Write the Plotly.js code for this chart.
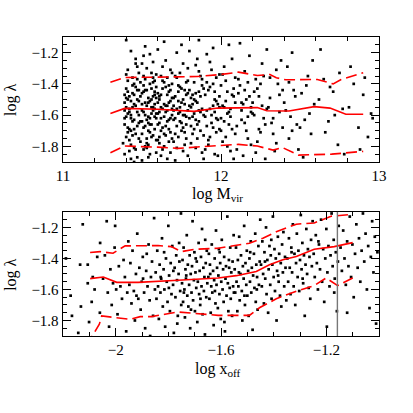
<!DOCTYPE html>
<html>
<head>
<meta charset="utf-8">
<script src="https://cdn.plot.ly/plotly-3.0.1.min.js"></script>
<style>
  html, body { margin: 0; padding: 0; background: #fff; }
  #chart { width: 413px; height: 413px; }
</style>
</head>
<body>
<div id="chart"></div>
<script>
// top panel: halo mass vs spin, [log Mvir, log lambda]
const massPoints = [
  [11.39,-1.52],[11.41,-1.71],[11.40,-1.34],[11.43,-1.62],[11.45,-1.47],[11.42,-1.83],[11.47,-1.58],[11.39,-1.66],[11.44,-1.41],[11.48,-1.75],
  [11.40,-1.49],[11.46,-1.27],[11.41,-1.59],[11.49,-1.64],[11.43,-1.88],[11.45,-1.53],[11.38,-1.78],[11.47,-1.44],[11.42,-1.69],[11.44,-1.36],
  [11.40,-1.61],[11.48,-1.51],[11.46,-1.72],[11.41,-1.45],[11.43,-1.19],[11.39,-1.57],[11.49,-1.39],[11.45,-1.81],[11.42,-1.48],[11.47,-1.67],
  [11.44,-1.55],[11.40,-1.74],[11.46,-1.42],[11.48,-1.60],[11.41,-1.31],[11.43,-1.70],[11.39,-1.85],[11.45,-1.63],[11.47,-1.50],[11.42,-1.58],
  [11.49,-1.77],[11.44,-1.46],[11.40,-1.12],[11.46,-1.54],[11.41,-1.68],[11.48,-1.33],[11.43,-1.79],[11.45,-1.40],[11.39,-1.62],[11.47,-1.87],
  [11.42,-1.56],[11.44,-1.73],[11.40,-1.43],[11.48,-1.65],[11.46,-1.24],[11.41,-1.50],[11.43,-1.60],[11.49,-1.48],[11.45,-1.69],[11.47,-1.37],
  [11.39,-1.47],[11.42,-1.76],[11.44,-1.64],[11.40,-1.55],[11.46,-1.82],[11.48,-1.44],[11.41,-1.38],[11.43,-1.51],[11.45,-1.90],[11.47,-1.29],
  [11.51,-1.58],[11.53,-1.44],[11.55,-1.71],[11.57,-1.36],[11.59,-1.62],[11.52,-1.80],[11.54,-1.49],[11.56,-1.66],[11.58,-1.53],[11.50,-1.27],
  [11.53,-1.75],[11.55,-1.40],[11.57,-1.57],[11.59,-1.84],[11.51,-1.45],[11.54,-1.61],[11.56,-1.33],[11.58,-1.69],[11.52,-1.52],[11.50,-1.64],
  [11.55,-1.21],[11.57,-1.48],[11.53,-1.78],[11.59,-1.42],[11.51,-1.68],[11.56,-1.55],[11.54,-1.87],[11.58,-1.38],[11.52,-1.60],[11.50,-1.46],
  [11.57,-1.73],[11.55,-1.51],[11.53,-1.30],[11.59,-1.59],[11.51,-1.82],[11.56,-1.43],[11.54,-1.65],[11.58,-1.56],[11.52,-1.16],[11.50,-1.72],
  [11.55,-1.62],[11.57,-1.39],[11.53,-1.54],[11.59,-1.76],[11.51,-1.35],[11.56,-1.50],[11.54,-1.79],[11.58,-1.47],[11.52,-1.67],[11.50,-1.57],
  [11.57,-1.26],[11.55,-1.85],[11.53,-1.63],[11.59,-1.49],[11.51,-1.41],[11.56,-1.74],[11.54,-1.52],[11.58,-1.61],[11.52,-1.37],[11.50,-1.89],
  [11.56,-1.59],[11.58,-1.45],[11.54,-1.70],[11.52,-1.44],[11.57,-1.55],[11.55,-1.66],[11.51,-1.22],[11.53,-1.81],[11.59,-1.34],[11.50,-1.53],
  [11.61,-1.50],[11.63,-1.68],[11.65,-1.42],[11.67,-1.77],[11.69,-1.56],[11.62,-1.35],[11.64,-1.61],[11.66,-1.47],[11.68,-1.84],[11.60,-1.59],
  [11.63,-1.29],[11.65,-1.73],[11.67,-1.52],[11.69,-1.40],[11.61,-1.65],[11.64,-1.80],[11.66,-1.57],[11.68,-1.44],[11.62,-1.70],[11.60,-1.18],
  [11.65,-1.54],[11.67,-1.63],[11.63,-1.38],[11.69,-1.75],[11.61,-1.48],[11.66,-1.88],[11.64,-1.53],[11.68,-1.31],[11.62,-1.62],[11.60,-1.46],
  [11.67,-1.69],[11.65,-1.58],[11.63,-1.43],[11.69,-1.60],[11.61,-1.78],[11.66,-1.36],[11.64,-1.72],[11.68,-1.51],[11.62,-1.55],[11.60,-1.66],
  [11.65,-1.25],[11.67,-1.45],[11.63,-1.82],[11.69,-1.49],[11.61,-1.58],[11.66,-1.64],[11.64,-1.39],[11.68,-1.71],[11.62,-1.47],[11.60,-1.76],
  [11.66,-1.54],[11.68,-1.62],[11.64,-1.13],[11.62,-1.86],[11.67,-1.41],[11.65,-1.67],[11.63,-1.56],[11.69,-1.33],[11.61,-1.74],[11.60,-1.52],
  [11.71,-1.62],[11.73,-1.45],[11.75,-1.70],[11.77,-1.53],[11.79,-1.38],[11.72,-1.81],[11.74,-1.58],[11.76,-1.27],[11.78,-1.66],[11.70,-1.49],
  [11.73,-1.74],[11.75,-1.43],[11.77,-1.60],[11.79,-1.86],[11.71,-1.35],[11.74,-1.55],[11.76,-1.68],[11.78,-1.47],[11.72,-1.20],[11.70,-1.63],
  [11.75,-1.52],[11.77,-1.79],[11.73,-1.41],[11.79,-1.57],[11.71,-1.72],[11.76,-1.50],[11.74,-1.33],[11.78,-1.61],[11.72,-1.56],[11.70,-1.77],
  [11.77,-1.44],[11.75,-1.65],[11.73,-1.59],[11.79,-1.30],[11.71,-1.48],[11.76,-1.83],[11.74,-1.64],[11.78,-1.39],[11.72,-1.67],[11.70,-1.54],
  [11.75,-1.15],[11.77,-1.71],[11.73,-1.51],[11.79,-1.46],[11.71,-1.89],[11.76,-1.60],[11.74,-1.42],[11.78,-1.75],[11.72,-1.36],[11.70,-1.57],
  [11.81,-1.55],[11.83,-1.39],[11.85,-1.66],[11.87,-1.48],[11.89,-1.73],[11.82,-1.61],[11.84,-1.28],[11.86,-1.57],[11.88,-1.84],[11.80,-1.44],
  [11.83,-1.69],[11.85,-1.52],[11.87,-1.35],[11.89,-1.60],[11.81,-1.78],[11.84,-1.46],[11.86,-1.64],[11.88,-1.41],[11.82,-1.53],[11.80,-1.19],
  [11.85,-1.75],[11.87,-1.58],[11.83,-1.50],[11.89,-1.43],[11.81,-1.67],[11.86,-1.32],[11.84,-1.81],[11.88,-1.56],[11.82,-1.47],[11.80,-1.62],
  [11.87,-1.70],[11.85,-1.24],[11.83,-1.59],[11.89,-1.88],[11.81,-1.49],[11.86,-1.45],[11.84,-1.63],[11.88,-1.37],[11.82,-1.72],[11.80,-1.54],
  [11.86,-1.12],[11.84,-1.51],
  [11.91,-1.57],[11.93,-1.42],[11.95,-1.68],[11.97,-1.51],[11.99,-1.34],[11.92,-1.76],[11.94,-1.60],[11.96,-1.45],[11.98,-1.63],[11.90,-1.82],
  [11.93,-1.26],[11.95,-1.54],[11.97,-1.71],[11.99,-1.48],[11.91,-1.39],[11.94,-1.65],[11.96,-1.58],[11.98,-1.86],[11.92,-1.44],[11.90,-1.61],
  [11.95,-1.17],[11.97,-1.36],[11.93,-1.74],[11.99,-1.55],[11.91,-1.67],[11.96,-1.50],[11.94,-1.31],[11.98,-1.53],[11.92,-1.79],[11.90,-1.47],
  [11.97,-1.62],[11.95,-1.40],[11.93,-1.56],[11.99,-1.69],[11.91,-1.21],[11.96,-1.85],
  [12.01,-1.54],[12.03,-1.38],[12.05,-1.66],[12.07,-1.47],[12.09,-1.72],[12.02,-1.29],[12.04,-1.59],[12.06,-1.83],[12.08,-1.43],[12.00,-1.62],
  [12.03,-1.51],[12.05,-1.15],[12.07,-1.69],[12.09,-1.36],[12.01,-1.77],[12.04,-1.45],[12.06,-1.56],[12.08,-1.88],[12.02,-1.64],[12.00,-1.41],
  [12.05,-1.58],[12.07,-1.24],[12.03,-1.74],[12.09,-1.52],[12.01,-1.34],[12.06,-1.61],[12.04,-1.80],[12.08,-1.48],[12.02,-1.55],[12.00,-1.70],
  [12.11,-1.46],[12.13,-1.63],[12.15,-1.32],[12.17,-1.75],[12.19,-1.55],[12.12,-1.41],[12.14,-1.86],[12.16,-1.50],[12.18,-1.22],[12.10,-1.67],
  [12.13,-1.57],[12.15,-1.44],[12.17,-1.61],[12.19,-1.79],[12.11,-1.37],[12.14,-1.53],[12.16,-1.70],[12.18,-1.48],[12.12,-1.14],[12.10,-1.82],
  [12.15,-1.65],[12.17,-1.39],[12.13,-1.52],[12.19,-1.58],
  [12.21,-1.60],[12.23,-1.43],[12.25,-1.71],[12.27,-1.35],[12.29,-1.56],[12.22,-1.84],[12.24,-1.48],[12.26,-1.27],[12.28,-1.66],[12.20,-1.52],
  [12.23,-1.77],[12.25,-1.40],[12.27,-1.62],[12.29,-1.18],[12.21,-1.45],[12.24,-1.69],[12.26,-1.54],[12.28,-1.88],[12.22,-1.37],[12.20,-1.59],
  [12.31,-1.49],[12.33,-1.72],[12.35,-1.31],[12.37,-1.58],[12.39,-1.44],[12.32,-1.65],[12.34,-1.83],[12.36,-1.40],[12.38,-1.25],[12.30,-1.55],
  [12.33,-1.62],[12.35,-1.78],[12.37,-1.47],[12.39,-1.68],[12.31,-1.36],
  [12.41,-1.57],[12.43,-1.39],[12.45,-1.70],[12.47,-1.48],[12.49,-1.82],[12.42,-1.29],[12.44,-1.61],[12.46,-1.44],[12.48,-1.66],[12.40,-1.52],
  [12.45,-1.20],[12.43,-1.75],
  [12.51,-1.46],[12.53,-1.63],[12.55,-1.35],[12.57,-1.72],[12.59,-1.53],[12.52,-1.87],[12.54,-1.41],[12.56,-1.59],[12.58,-1.25],[12.50,-1.68],
  [12.62,-1.50],[12.65,-1.37],[12.68,-1.64],[12.71,-1.45],[12.74,-1.79],[12.77,-1.56],[12.63,-1.18],[12.66,-1.71],[12.69,-1.42],[12.72,-1.60],
  [12.75,-1.33],[12.78,-1.85],
  [12.81,-1.55],[12.84,-1.40],[12.87,-1.68],[12.90,-1.47],[12.93,-1.74],[12.95,-1.59],[12.82,-1.29],[12.88,-1.82],[12.91,-1.36],[12.96,-1.62]
];

// bottom panel: offset vs spin, [log xoff, log lambda]
const offsetPoints = [
  [-2.189,-1.40],[-2.171,-1.64],[-2.166,-1.77],[-2.142,-1.88],[-2.135,-1.44],[-2.132,-1.71],[-2.125,-1.18],[-2.106,-1.44],[-2.106,-1.56],[-2.101,-1.81],
  [-2.091,-1.68],[-2.087,-1.52],[-2.070,-1.39],[-2.060,-1.75],[-2.059,-1.30],[-2.080,-1.60],
  [-2.048,-1.53],[-2.041,-1.38],[-2.034,-1.16],[-2.030,-1.62],[-2.025,-1.84],[-2.020,-1.47],[-2.015,-1.70],[-2.010,-1.56],[-2.004,-1.33],[-2.002,-1.19],
  [-1.998,-1.60],[-1.993,-1.76],[-1.988,-1.45],[-1.982,-1.58],[-1.976,-1.66],[-1.970,-1.41],[-1.965,-1.52],[-1.960,-1.87],[-1.956,-1.62],[-1.952,-1.29],
  [-1.948,-1.57],[-1.944,-1.43],[-1.940,-1.69],[-1.936,-1.35],[-1.931,-1.61],[-1.927,-1.80],[-1.923,-1.50],[-1.918,-1.24],[-1.914,-1.66],[-1.910,-1.46],
  [-1.905,-1.73],[-1.901,-1.55],[-1.897,-1.39],[-1.892,-1.62],[-1.888,-1.85],[-1.884,-1.48],[-1.879,-1.58],[-1.875,-1.31],[-1.871,-1.67],[-1.866,-1.52],
  [-1.862,-1.42],[-1.858,-1.77],[-1.854,-1.14],[-1.851,-1.60],[-1.896,-1.53],[-1.921,-1.64],[-1.882,-1.37],[-1.869,-1.90],
  [-1.848,-1.49],[-1.845,-1.66],[-1.842,-1.35],[-1.839,-1.58],[-1.836,-1.79],[-1.833,-1.44],[-1.830,-1.62],[-1.827,-1.53],[-1.824,-1.27],[-1.821,-1.71],
  [-1.818,-1.47],[-1.815,-1.60],[-1.812,-1.84],[-1.809,-1.40],[-1.806,-1.55],[-1.803,-1.68],[-1.800,-1.19],[-1.797,-1.51],[-1.794,-1.74],[-1.791,-1.43],
  [-1.788,-1.63],[-1.785,-1.32],[-1.782,-1.57],[-1.779,-1.88],[-1.776,-1.46],[-1.773,-1.65],[-1.770,-1.38],[-1.767,-1.54],[-1.764,-1.77],[-1.761,-1.50],
  [-1.758,-1.42],[-1.755,-1.61],[-1.752,-1.11],[-1.751,-1.70],[-1.816,-1.36],[-1.798,-1.59],[-1.781,-1.48],[-1.766,-1.82],[-1.829,-1.52],[-1.759,-1.30],
  [-1.748,-1.56],[-1.746,-1.41],[-1.744,-1.68],[-1.742,-1.33],[-1.739,-1.60],[-1.737,-1.78],[-1.735,-1.47],[-1.733,-1.53],[-1.730,-1.25],[-1.728,-1.64],
  [-1.726,-1.44],[-1.724,-1.71],[-1.721,-1.57],[-1.719,-1.38],[-1.717,-1.85],[-1.715,-1.50],[-1.712,-1.62],[-1.710,-1.45],[-1.708,-1.16],[-1.706,-1.67],
  [-1.703,-1.54],[-1.701,-1.36],[-1.699,-1.74],[-1.697,-1.49],[-1.694,-1.59],[-1.692,-1.42],[-1.690,-1.81],[-1.688,-1.55],[-1.685,-1.30],[-1.683,-1.63],
  [-1.681,-1.48],[-1.679,-1.70],[-1.676,-1.39],[-1.674,-1.58],[-1.672,-1.21],[-1.670,-1.76],[-1.667,-1.46],[-1.665,-1.61],[-1.663,-1.52],[-1.661,-1.89],
  [-1.658,-1.43],[-1.656,-1.65],[-1.654,-1.35],[-1.652,-1.56],[-1.732,-1.51],[-1.714,-1.73],[-1.696,-1.40],[-1.678,-1.66],[-1.660,-1.28],[-1.741,-1.62],
  [-1.648,-1.52],[-1.646,-1.37],[-1.644,-1.66],[-1.642,-1.44],[-1.639,-1.75],[-1.637,-1.58],[-1.635,-1.31],[-1.633,-1.62],[-1.630,-1.48],[-1.628,-1.83],
  [-1.626,-1.54],[-1.624,-1.40],[-1.621,-1.69],[-1.619,-1.22],[-1.617,-1.57],[-1.615,-1.46],[-1.612,-1.72],[-1.610,-1.51],[-1.608,-1.34],[-1.606,-1.63],
  [-1.603,-1.43],[-1.601,-1.79],[-1.599,-1.55],[-1.597,-1.28],[-1.594,-1.60],[-1.592,-1.47],[-1.590,-1.68],[-1.588,-1.39],[-1.585,-1.87],[-1.583,-1.53],
  [-1.581,-1.45],[-1.579,-1.64],[-1.576,-1.13],[-1.574,-1.56],[-1.572,-1.74],[-1.570,-1.41],[-1.567,-1.59],[-1.565,-1.33],[-1.563,-1.66],[-1.561,-1.49],
  [-1.558,-1.77],[-1.556,-1.42],[-1.554,-1.58],[-1.552,-1.25],[-1.641,-1.50],[-1.623,-1.61],[-1.605,-1.36],[-1.587,-1.81],[-1.569,-1.46],[-1.551,-1.62],
  [-1.548,-1.47],[-1.546,-1.62],[-1.543,-1.33],[-1.541,-1.55],[-1.538,-1.74],[-1.536,-1.41],[-1.534,-1.58],[-1.531,-1.26],[-1.529,-1.67],[-1.526,-1.50],
  [-1.524,-1.38],[-1.521,-1.61],[-1.519,-1.80],[-1.517,-1.45],[-1.514,-1.53],[-1.512,-1.19],[-1.509,-1.70],[-1.507,-1.43],[-1.504,-1.57],[-1.502,-1.35],
  [-1.500,-1.64],[-1.497,-1.48],[-1.495,-1.77],[-1.492,-1.40],[-1.490,-1.55],[-1.487,-1.29],[-1.485,-1.62],[-1.483,-1.46],[-1.480,-1.86],[-1.478,-1.51],
  [-1.475,-1.37],[-1.473,-1.59],[-1.470,-1.24],[-1.468,-1.68],[-1.466,-1.44],[-1.463,-1.52],[-1.461,-1.73],[-1.458,-1.32],[-1.456,-1.57],[-1.453,-1.42],
  [-1.451,-1.15],[-1.532,-1.49],[-1.511,-1.64],[-1.489,-1.36],[-1.464,-1.60],
  [-1.448,-1.44],[-1.445,-1.58],[-1.443,-1.29],[-1.440,-1.50],[-1.437,-1.69],[-1.435,-1.36],[-1.432,-1.53],[-1.429,-1.20],[-1.427,-1.63],[-1.424,-1.41],
  [-1.421,-1.75],[-1.419,-1.47],[-1.416,-1.32],[-1.413,-1.57],[-1.411,-1.38],[-1.408,-1.66],[-1.405,-1.44],[-1.403,-1.13],[-1.400,-1.52],[-1.397,-1.34],
  [-1.395,-1.61],[-1.392,-1.40],[-1.389,-1.80],[-1.387,-1.48],[-1.384,-1.26],[-1.381,-1.55],[-1.379,-1.37],[-1.376,-1.64],[-1.373,-1.43],[-1.371,-1.71],
  [-1.368,-1.31],[-1.365,-1.49],[-1.363,-1.23],[-1.360,-1.58],[-1.357,-1.39],[-1.355,-1.46],[-1.352,-1.67],[-1.433,-1.42],[-1.409,-1.28],[-1.383,-1.51],
  [-1.348,-1.40],[-1.345,-1.55],[-1.342,-1.27],[-1.339,-1.46],[-1.336,-1.63],[-1.333,-1.33],[-1.330,-1.49],[-1.327,-1.18],[-1.324,-1.58],[-1.321,-1.37],
  [-1.318,-1.70],[-1.315,-1.43],[-1.312,-1.24],[-1.309,-1.52],[-1.306,-1.35],[-1.303,-1.61],[-1.300,-1.41],[-1.297,-1.12],[-1.294,-1.47],[-1.291,-1.30],
  [-1.288,-1.56],[-1.285,-1.38],[-1.282,-1.77],[-1.279,-1.44],[-1.276,-1.21],[-1.273,-1.50],[-1.270,-1.34],[-1.267,-1.59],[-1.264,-1.39],[-1.261,-1.66],
  [-1.258,-1.28],[-1.255,-1.45],[-1.252,-1.16],[-1.332,-1.36],[-1.290,-1.53],
  [-1.248,-1.37],[-1.244,-1.52],[-1.240,-1.25],[-1.236,-1.43],[-1.232,-1.60],[-1.228,-1.31],[-1.224,-1.47],[-1.220,-1.15],[-1.216,-1.55],[-1.212,-1.34],
  [-1.208,-1.68],[-1.204,-1.40],[-1.200,-1.21],[-1.196,-1.49],[-1.192,-1.32],[-1.188,-1.58],[-1.184,-1.38],[-1.180,-1.11],[-1.176,-1.45],[-1.172,-1.28],
  [-1.168,-1.53],[-1.164,-1.36],[-1.160,-1.74],[-1.156,-1.42],[-1.153,-1.19],[-1.230,-1.29],[-1.198,-1.84],[-1.170,-1.62],
  [-1.146,-1.33],[-1.141,-1.48],[-1.136,-1.22],[-1.131,-1.40],[-1.126,-1.57],[-1.121,-1.29],[-1.116,-1.45],[-1.111,-1.13],[-1.106,-1.52],[-1.101,-1.31],
  [-1.096,-1.65],[-1.091,-1.37],[-1.086,-1.18],[-1.081,-1.46],[-1.076,-1.27],[-1.071,-1.55],[-1.066,-1.35],[-1.061,-1.11],[-1.056,-1.42],[-1.051,-1.24],
  [-1.046,-1.60],[-1.041,-1.32],[-1.036,-1.72],[-1.031,-1.39],[-1.026,-1.16],[-1.021,-1.49],[-1.016,-1.26],[-1.011,-1.82],[-1.006,-1.36],[-1.121,-1.75]
];

// running median and 10/90 percentiles
const massMedian = [[11.30,-1.59],[11.39,-1.557],[11.60,-1.562],[11.73,-1.568],[11.83,-1.576],[11.98,-1.555],[12.14,-1.553],[12.23,-1.552],[12.29,-1.572],[12.43,-1.574],[12.59,-1.546],[12.69,-1.555],[12.79,-1.594],[12.90,-1.594]];
const massP90 = [[11.30,-1.389],[11.39,-1.359],[11.60,-1.357],[11.85,-1.353],[12.00,-1.34],[12.11,-1.325],[12.23,-1.346],[12.31,-1.34],[12.35,-1.361],[12.41,-1.374],[12.61,-1.372],[12.71,-1.40],[12.76,-1.372],[12.90,-1.329]];
const massP10 = [[11.30,-1.841],[11.39,-1.798],[11.60,-1.805],[11.73,-1.813],[11.85,-1.804],[12.11,-1.787],[12.23,-1.798],[12.33,-1.824],[12.39,-1.808],[12.49,-1.856],[12.70,-1.85],[12.90,-1.832]];

const offMedian = [[-2.097,-1.530],[-2.047,-1.520],[-1.996,-1.554],[-1.915,-1.554],[-1.763,-1.541],[-1.611,-1.526],[-1.542,-1.511],[-1.466,-1.484],[-1.416,-1.441],[-1.365,-1.409],[-1.314,-1.388],[-1.246,-1.341],[-1.170,-1.324],[-1.100,-1.298]];
const offP90 = [[-2.097,-1.362],[-2.059,-1.356],[-2.010,-1.366],[-1.964,-1.319],[-1.839,-1.317],[-1.789,-1.324],[-1.751,-1.356],[-1.700,-1.341],[-1.611,-1.334],[-1.542,-1.313],[-1.492,-1.302],[-1.441,-1.27],[-1.390,-1.228],[-1.314,-1.179],[-1.246,-1.171],[-1.182,-1.128],[-1.100,-1.115]];
const offP10 = [[-2.110,-1.96],[-2.062,-1.824],[-2.053,-1.771],[-2.009,-1.781],[-1.945,-1.792],[-1.907,-1.775],[-1.864,-1.775],[-1.813,-1.760],[-1.763,-1.745],[-1.700,-1.754],[-1.611,-1.767],[-1.492,-1.767],[-1.454,-1.718],[-1.390,-1.66],[-1.314,-1.611],[-1.246,-1.575],[-1.201,-1.526],[-1.157,-1.575],[-1.100,-1.526]];

const xoffCut = -1.158;

const lambdaTicks = [-1.8, -1.6, -1.4, -1.2];
const massTicks = [11, 12, 13];
const offTicks = [-2, -1.6, -1.2];

const font = "Liberation Serif, Times New Roman, serif";
const titleFont = { family: font, size: 16, color: "#000" };

function dots(pts, xa, ya) {
  return {
    x: pts.map((p) => p[0]),
    y: pts.map((p) => p[1]),
    xaxis: xa,
    yaxis: ya,
    type: "scatter",
    mode: "markers",
    marker: { symbol: "square", size: 2.7, color: "#000" },
    hoverinfo: "skip",
  };
}

function curve(pts, xa, ya, dashed) {
  return {
    x: pts.map((p) => p[0]),
    y: pts.map((p) => p[1]),
    xaxis: xa,
    yaxis: ya,
    type: "scatter",
    mode: "lines",
    line: { color: "#ff0000", width: 1.6, dash: dashed ? "11px,5px" : "solid" },
    hoverinfo: "skip",
  };
}

const data = [
  dots(massPoints, "x", "y"),
  curve(massMedian, "x", "y", false),
  curve(massP90, "x", "y", true),
  curve(massP10, "x", "y", true),
  dots(offsetPoints, "x2", "y2"),
  curve(offMedian, "x2", "y2", false),
  curve(offP90, "x2", "y2", true),
  curve(offP10, "x2", "y2", true),
];

const axisBase = {
  showline: true,
  linecolor: "#000",
  linewidth: 1.4,
  mirror: "allticks",
  ticks: "inside",
  ticklen: 8,
  tickwidth: 1,
  tickcolor: "#000",
  showgrid: false,
  zeroline: false,
  tickfont: { family: font, size: 15, color: "#000" },
};

// y labels sit further from the frame in the reference, pad them with a space
const yLabelPad = "\u2002\u2009";

// axis titles placed as paper annotations so they sit where the reference has them
function label(text, x, y, rotate) {
  return {
    text,
    xref: "paper",
    yref: "paper",
    x,
    y,
    xanchor: "center",
    yanchor: "middle",
    textangle: rotate ? -90 : 0,
    showarrow: false,
    font: titleFont,
  };
}

const layout = {
  width: 413,
  height: 413,
  showlegend: false,
  margin: { l: 63, r: 34, t: 37, b: 77 },
  paper_bgcolor: "#fff",
  plot_bgcolor: "#fff",

  xaxis: {
    ...axisBase,
    anchor: "y",
    domain: [0, 1],
    range: [11, 13],
    tickvals: massTicks,
    minor: { dtick: 0.2, tick0: 11, ticks: "inside", ticklen: 4, tickcolor: "#000" },
  },
  yaxis: {
    ...axisBase,
    anchor: "x",
    domain: [0.582, 1],
    range: [-1.9, -1.1],
    tickvals: lambdaTicks,
    ticksuffix: yLabelPad,
    minor: { dtick: 0.05, tick0: -1.2, ticks: "inside", ticklen: 4, tickcolor: "#000" },
  },
  xaxis2: {
    ...axisBase,
    anchor: "y2",
    domain: [0, 1],
    range: [-2.2, -1.0],
    tickvals: offTicks,
    minor: { dtick: 0.1, tick0: -2, ticks: "inside", ticklen: 4, tickcolor: "#000" },
  },
  yaxis2: {
    ...axisBase,
    anchor: "x2",
    domain: [0, 0.415],
    range: [-1.9, -1.1],
    tickvals: lambdaTicks,
    ticksuffix: yLabelPad,
    minor: { dtick: 0.05, tick0: -1.2, ticks: "inside", ticklen: 4, tickcolor: "#000" },
  },

  annotations: [
    label("log M<sub>vir</sub>", 0.49, 0.474, false),
    label("log x<sub>off</sub>", 0.49, -0.112, false),
    label("log λ", -0.165, 0.789, true),
    label("log λ", -0.165, 0.204, true),
  ],

  shapes: [
    {
      type: "line",
      xref: "x2",
      yref: "y2 domain",
      x0: xoffCut,
      x1: xoffCut,
      y0: 0,
      y1: 1,
      line: { color: "#777", width: 1.4 },
    },
  ],
};

const config = {
  responsive: false,
  displayModeBar: false,
  staticPlot: true,
};

Plotly.newPlot("chart", data, layout, config);
</script>
</body>
</html>
